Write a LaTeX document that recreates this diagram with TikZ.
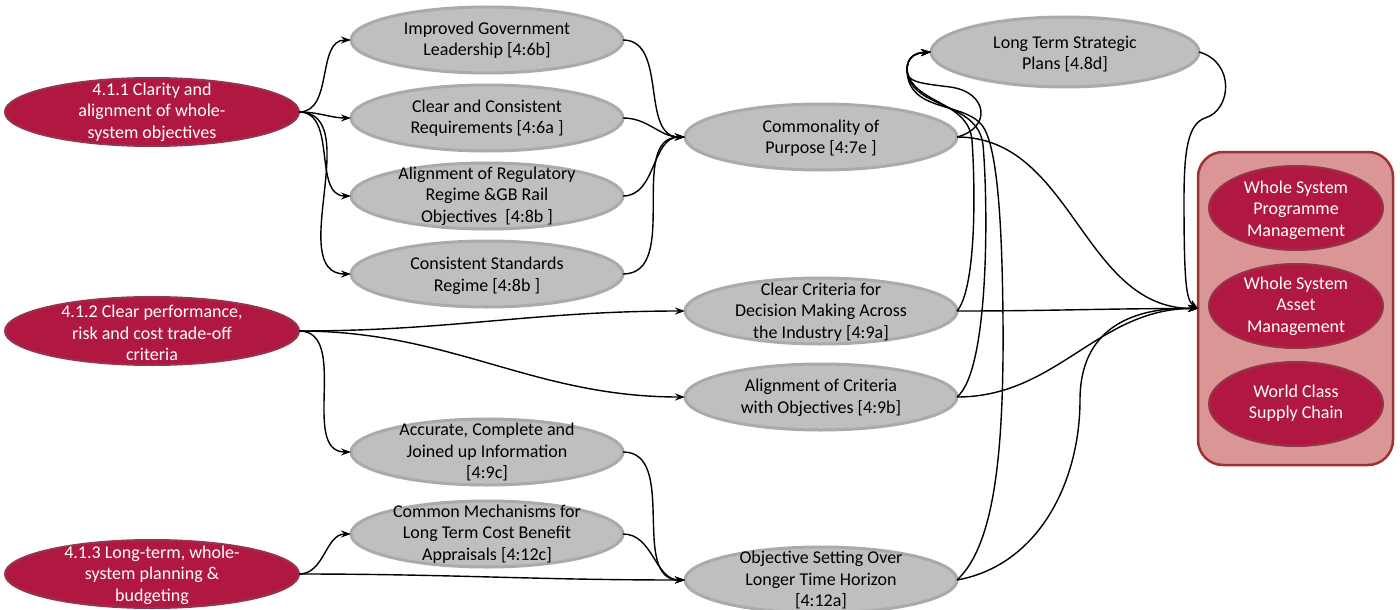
\documentclass[tikz,border=0pt]{standalone}
\usepackage{fontspec}
\setmainfont{Carlito}
\usetikzlibrary{shapes.geometric,arrows.meta}
\definecolor{crim}{RGB}{176,24,66}
\definecolor{crimline}{RGB}{150,52,76}
\definecolor{gfill}{RGB}{191,191,191}
\definecolor{gline}{RGB}{170,170,170}
\definecolor{boxfill}{RGB}{217,150,148}
\definecolor{boxline}{RGB}{160,50,50}
\begin{document}
\begin{tikzpicture}[x=1pt,y=-1pt,
  txt/.style={font=\fontsize{18}{21.5}\selectfont,align=center,inner sep=0pt},
  wtxt/.style={txt,text=white},
  gell/.style={ellipse,draw=gline,line width=3pt,fill=gfill,minimum width=272pt,minimum height=66pt,inner sep=0pt,outer sep=0pt},
  cell/.style={ellipse,draw=crimline,line width=2pt,fill=crim,minimum width=294pt,minimum height=68pt,inner sep=0pt,outer sep=0pt},
  sell/.style={cell,minimum width=174pt,minimum height=84pt},
  outbox/.style={draw=boxline,line width=2.5pt,fill=boxfill,rounded corners=25pt,minimum width=195pt,minimum height=313pt,inner sep=0pt,outer sep=0pt},
  edge/.style={line width=1.4pt,-{Stealth[length=10pt,width=7pt]}}]
\useasboundingbox (0,0) rectangle (1400,610);

% source nodes
\node[cell] (c1) at (152,112) {};
\node[wtxt] (t1) at (c1) {4.1.1 Clarity and\\alignment of whole-\\system objectives};
\node[cell] (c2) at (152,331) {};
\node[wtxt] (t2) at (152,333) {4.1.2 Clear performance,\\risk and cost trade-off\\criteria};
\node[cell] (c3) at (152,574) {};
\node[wtxt] (t3) at (152,575) {4.1.3 Long-term, whole-\\system planning \&\\budgeting};

% column 1
\node[gell] (ig) at (487,40) {};
\node[txt] (tig) at (ig) {Improved Government\\Leadership [4:6b]};
\node[gell] (cr) at (487,118) {};
\node[txt] (tcr) at (cr) {Clear and Consistent\\Requirements [4:6a ]};
\node[gell] (ar) at (487,196) {};
\node[txt] (tar) at (ar) {Alignment of Regulatory\\Regime \&GB Rail\\Objectives\ \ [4:8b ]};
\node[gell] (cs) at (487,274) {};
\node[txt] (tcs) at (487,276) {Consistent Standards\\Regime [4:8b ]};
\node[gell] (ac) at (487,452) {};
\node[txt] (tac) at (ac) {Accurate, Complete and\\Joined up Information\\{}[4:9c]};
\node[gell] (cm) at (487,534) {};
\node[txt] (tcm) at (cm) {Common Mechanisms for\\Long Term Cost Benefit\\Appraisals [4:12c]};

% column 2
\node[gell] (com) at (821,137) {};
\node[txt] (tcom) at (821,138) {Commonality of\\Purpose [4:7e ]};
\node[gell] (cc) at (821,311) {};
\node[txt] (tcc) at (821,312) {Clear Criteria for\\Decision Making Across\\the Industry [4:9a]};
\node[gell] (al) at (821,397) {};
\node[txt] (tal) at (821,398) {Alignment of Criteria\\with Objectives [4:9b]};
\node[gell] (os) at (821,580) {};
\node[txt] (tos) at (821,580) {Objective Setting Over\\Longer Time Horizon\\{}[4:12a]};

% long term plans
\node[gell,minimum width=268pt,minimum height=70pt] (lt) at (1065,52) {};
\node[txt] (tlt) at (1065,54) {Long Term Strategic\\Plans [4.8d]};

% outcome box
\node[outbox] (box) at (1295.5,308.5) {};
\node[sell] (w1) at (1296,208) {};
\node[wtxt] (tw1) at (1296,210) {Whole System\\Programme\\Management};
\node[sell] (w2) at (1296,306) {};
\node[wtxt] (tw2) at (w2) {Whole System\\Asset\\Management};
\node[sell] (w3) at (1296,404) {};
\node[wtxt] (tw3) at (1296,403) {World Class\\Supply Chain};

% edges: 4.1.1
\draw[edge] (c1.east) to[out=0,in=180] (ig.west);
\draw[edge] (c1.east) to[out=0,in=180] (cr.west);
\draw[edge] (c1.east) to[out=0,in=180] (ar.west);
\draw[edge] (c1.east) to[out=0,in=180] (cs.west);
% column 1 -> commonality
\draw[edge] (ig.east) to[out=0,in=180] (com.west);
\draw[edge] (cr.east) to[out=0,in=180] (com.west);
\draw[edge] (ar.east) to[out=0,in=180] (com.west);
\draw[edge] (cs.east) to[out=0,in=180] (com.west);
% 4.1.2
\draw[edge] (c2.east) to[out=0,in=180] (cc.west);
\draw[edge] (c2.east) to[out=0,in=180] (al.west);
\draw[edge] (c2.east) to[out=0,in=180] (ac.west);
% 4.1.3
\draw[edge] (c3.east) to[out=0,in=180] (cm.west);
\draw[edge] (c3.east) to[out=0,in=180] (os.west);
\draw[edge] (ac.east) to[out=0,in=180] (os.west);
\draw[edge] (cm.east) to[out=0,in=180] (os.west);

% edges into long term plans
\coordinate (lk) at (907,70);
\draw[edge] (com.east) .. controls (992,128) and (988,92) .. (950,87)
  .. controls (918,83) and (907,82) .. (lk) .. controls (907,58) and (914,53) .. (lt.west);
\draw[edge] (cc.east) .. controls (975,290) and (976,200) .. (972,140)
  .. controls (968,100) and (912,104) .. (lk) .. controls (907,58) and (914,53) .. (lt.west);
\draw[edge] (al.east) .. controls (990,370) and (988,200) .. (983,145)
  .. controls (978,100) and (910,110) .. (lk) .. controls (907,58) and (914,53) .. (lt.west);
\draw[edge] (os.east) .. controls (995,545) and (1004,450) .. (1003,320)
  .. controls (1002,200) and (995,150) .. (985,130)
  .. controls (970,100) and (908,115) .. (lk) .. controls (907,58) and (914,53) .. (lt.west);

% edges into outcome box
\draw[edge] (com.east) to[out=0,in=180] (box.west);
\draw[edge] (lt.east) .. controls (1235,62) and (1232,110) .. (1205,118)
  .. controls (1188,124) and (1184,150) .. (1184,200)
  .. controls (1184,280) and (1186,300) .. (box.west);
\draw[edge] (cc.east) to[out=0,in=180] (box.west);
\draw[edge] (al.east) to[out=0,in=180] (box.west);
\draw[edge] (os.east) .. controls (1040,565) and (1080,480) .. (1080,400)
  .. controls (1080,330) and (1130,307) .. (box.west);
\end{tikzpicture}
\end{document}
